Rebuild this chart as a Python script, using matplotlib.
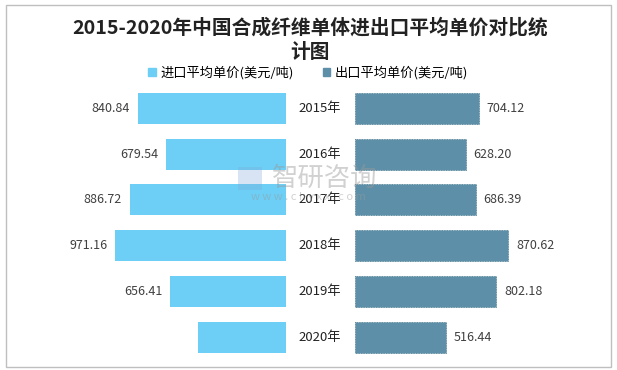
import matplotlib
matplotlib.use("Agg")
import matplotlib.pyplot as plt
from matplotlib.patches import Patch, Rectangle

plt.rcParams['font.family'] = ['Noto Sans CJK SC', 'DejaVu Sans']

years = ["2015年", "2016年", "2017年", "2018年", "2019年", "2020年"]
imports = [840.84, 679.54, 886.72, 971.16, 656.41, 500.0]
exports = [704.12, 628.20, 686.39, 870.62, 802.18, 516.44]
import_labels = ["840.84", "679.54", "886.72", "971.16", "656.41", ""]
export_labels = ["704.12", "628.20", "686.39", "870.62", "802.18", "516.44"]

C_IMP = "#6DCFF6"
C_EXP = "#5D90A8"

W, H = 617, 370
fig = plt.figure(figsize=(W / 100, H / 100), dpi=100)

# same px-per-unit on both halves
scale = 0.176
y0, y1 = 85.6, 360.0  # top / bottom of the bar area, in pixels


def px_axes(left, right):
    return fig.add_axes([left / W, 1 - y1 / H, (right - left) / W, (y1 - y0) / H])


ax_l = px_axes(20, 286)
ax_r = px_axes(355, 611)
pos = list(range(len(years)))

ax_l.barh(pos, imports, height=0.68, color=C_IMP)
ax_l.set_xlim((286 - 20) / scale, 0)
ax_r.barh(pos, exports, height=0.68, color=C_EXP, edgecolor="#4A7A92",
          linewidth=0.6, linestyle=(0, (1, 1)))
ax_r.set_xlim(0, (611 - 355) / scale)

for ax in (ax_l, ax_r):
    ax.set_ylim(5.5, -0.5)
    ax.axis("off")

for i, (v, lab) in enumerate(zip(imports, import_labels)):
    if lab:
        ax_l.text(v + 45, i, lab, ha="right", va="center", fontsize=9,
                  color="#404040")
for i, (v, lab) in enumerate(zip(exports, export_labels)):
    ax_r.text(v + 45, i, lab, ha="left", va="center", fontsize=9,
              color="#404040")

# year labels sit in the gap between the two halves (35 px left of right axes)
for i, y in enumerate(years):
    ax_r.text(-35 / scale, i, y, ha="center", va="center",
              fontsize=9.5, color="#222222", clip_on=False)

fig.text(310 / W, 1 - 28 / H, "2015-2020年中国合成纤维单体进出口平均单价对比统",
         ha="center", va="center", fontsize=14.2, fontweight="bold",
         color="#222222")
fig.text(310 / W, 1 - 53 / H, "计图", ha="center", va="center",
         fontsize=14.2, fontweight="bold", color="#222222")

handles = [Patch(color=C_IMP, label="进口平均单价(美元/吨)"),
           Patch(color=C_EXP, label="出口平均单价(美元/吨)")]
fig.legend(handles=handles, loc="center", bbox_to_anchor=(308 / W, 1 - 73 / H),
           ncol=2, frameon=False, fontsize=9.5, handlelength=0.6,
           handleheight=0.6, handletextpad=0.3, columnspacing=2.2)

# watermark
fig.text(325 / W, 1 - 178 / H, "智研咨询", ha="center", va="center",
         fontsize=19, color="#999999", alpha=0.45)
fig.text(308 / W, 1 - 197 / H, "w w w . c h y x x . c o m", ha="center",
         va="center", fontsize=8, color="#999999", alpha=0.45)
fig.patches.append(Rectangle((238 / W, 1 - 190 / H), 24 / W, 23 / H,
                             transform=fig.transFigure, facecolor="#7FA8D8",
                             alpha=0.3, edgecolor="none"))

fig.patches.append(Rectangle((6 / W, 1 - 367 / H), 605 / W, 362 / H,
                             transform=fig.transFigure, fill=False,
                             edgecolor="#BFBFBF", linewidth=1))

fig.savefig("out.png", dpi=100)
